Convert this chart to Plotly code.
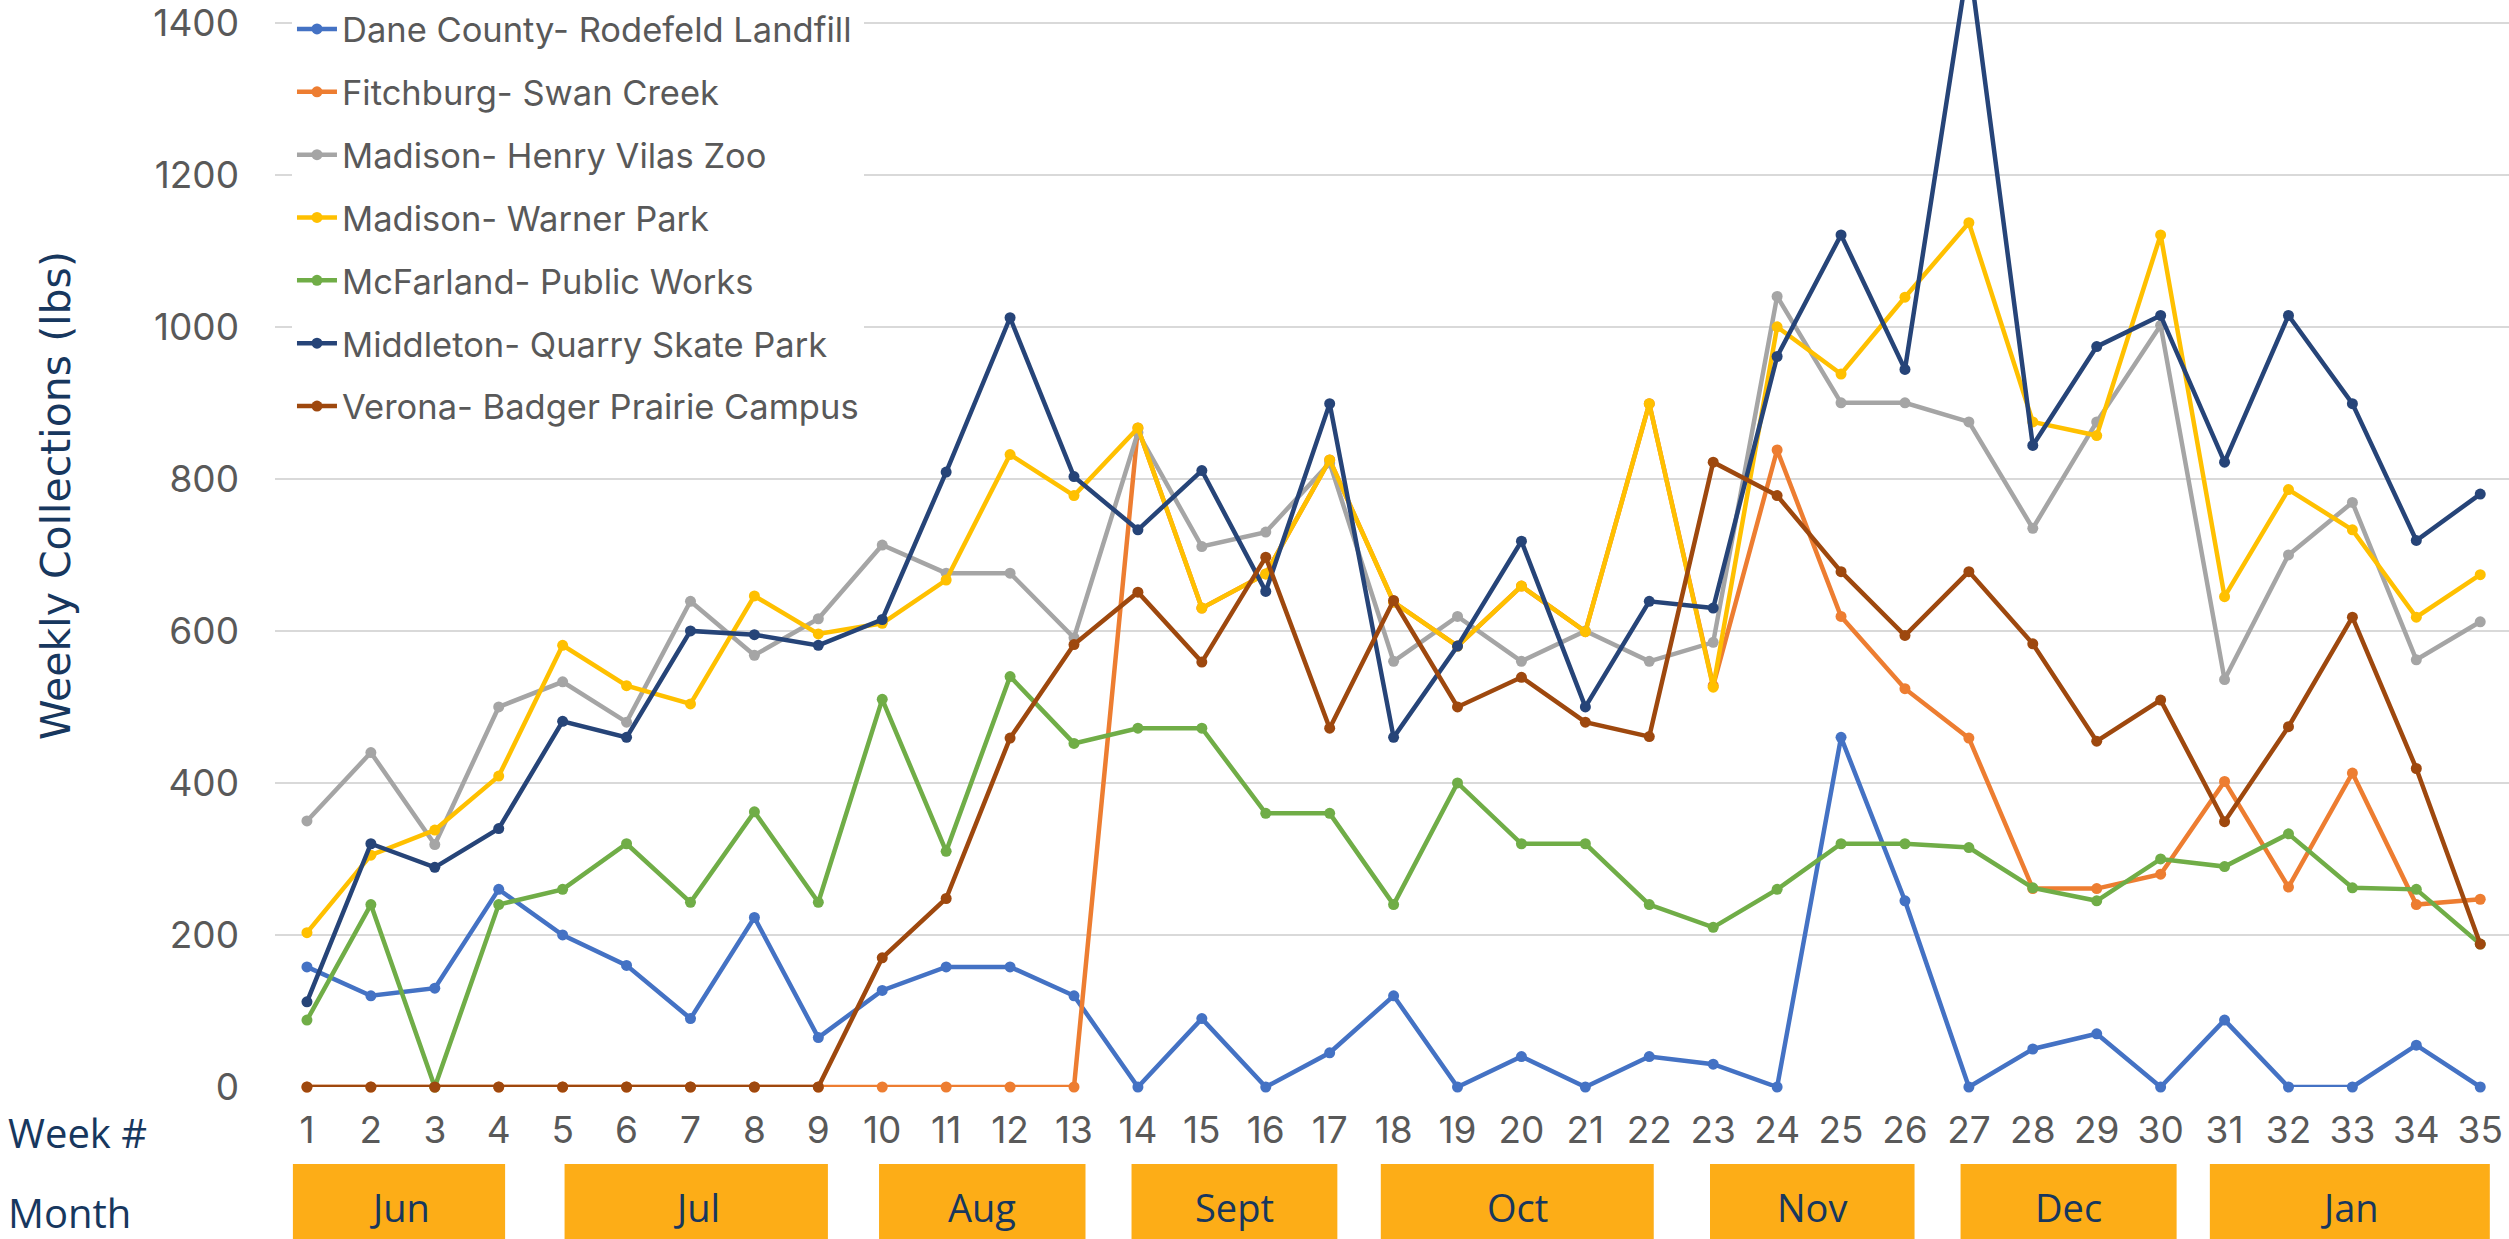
import plotly.graph_objects as go

weeks = list(range(1, 36))
week_labels = [str(w) for w in weeks]

series_names = [
    "Dane County- Rodefeld Landfill",
    "Fitchburg- Swan Creek",
    "Madison- Henry Vilas Zoo",
    "Madison- Warner Park",
    "McFarland- Public Works",
    "Middleton- Quarry Skate Park",
    "Verona- Badger Prairie Campus",
]
series_colors = ["#4472C4", "#ED7D31", "#A5A5A5", "#FFC000", "#70AD47", "#264478", "#9E480E"]

dane = [158, 120, 130, 260, 200, 160, 90, 223, 65, 127, 158, 158, 120, 0, 90, 0, 45, 120, 0, 40,
        0, 40, 30, 0, 460, 245, 0, 50, 70, 0, 88, 0, 0, 55, 0]
fitchburg = [0, 0, 0, 0, 0, 0, 0, 0, 0, 0, 0, 0, 0, 867, 630, 675, 825, 638, 580, 659,
             599, 899, 528, 838, 619, 524, 459, 261, 261, 280, 402, 263, 413, 240, 247]
vilas = [350, 440, 319, 500, 533, 480, 639, 568, 616, 713, 676, 676, 591, 861, 711, 730, 821, 560, 619, 560,
         600, 560, 585, 1040, 900, 900, 875, 735, 875, 1002, 536, 700, 769, 562, 612]
warner = [203, 305, 338, 409, 581, 528, 504, 646, 596, 610, 667, 832, 778, 867, 630, 675, 825, 638, 580, 659,
          599, 899, 526, 1000, 938, 1039, 1137, 875, 857, 1121, 645, 786, 733, 618, 674]
mcfarland = [88, 240, 0, 240, 260, 320, 243, 362, 243, 510, 310, 540, 452, 472, 472, 360, 360, 240, 400, 320,
             320, 240, 210, 260, 320, 320, 315, 262, 245, 300, 290, 333, 262, 260, 188]
middleton = [112, 320, 289, 340, 481, 460, 600, 595, 581, 615, 809, 1012, 803, 733, 811, 652, 899, 460, 580, 718,
             500, 639, 630, 961, 1121, 944, 1485, 844, 974, 1015, 822, 1015, 899, 719, 780]
verona = [0, 0, 0, 0, 0, 0, 0, 0, 0, 170, 248, 459, 582, 651, 559, 697, 472, 640, 500, 539,
          480, 461, 822, 778, 678, 594, 678, 583, 455, 509, 349, 474, 618, 419, 188]

all_series = [dane, fitchburg, vilas, warner, mcfarland, middleton, verona]

months = ["Jun", "Jul", "Aug", "Sept", "Oct", "Nov", "Dec", "Jan"]
month_start = [0.78, 5.03, 9.95, 13.9, 17.8, 22.95, 26.87, 30.77]
month_end = [4.1, 9.15, 13.18, 17.12, 22.07, 26.15, 30.25, 35.15]

fig = go.Figure()
for i, (name, vals) in enumerate(zip(series_names, all_series)):
    fig.add_trace(go.Scatter(
        x=weeks, y=vals, name=name, mode="lines+markers",
        line=dict(color=series_colors[i], width=4.5),
        marker=dict(color=series_colors[i], size=11),
        legendgroup=f"g{i}", cliponaxis=False,
    ))

navy = "#17375E"
for m, s, e in zip(months, month_start, month_end):
    fig.add_shape(type="rect", xref="x", yref="paper", x0=s, x1=e, y0=-0.0708, y1=-0.16,
                  fillcolor="#FDAD17", line=dict(width=0), layer="above")
    fig.add_annotation(x=(s + e) / 2, y=-0.110, xref="x", yref="paper", text=m, showarrow=False,
                       font=dict(family="Open Sans", size=38, color=navy), xanchor="center", yanchor="middle")

fig.add_annotation(x=-0.1205, y=-0.0423, xref="paper", yref="paper", text="Week #", showarrow=False,
                   font=dict(family="Open Sans", size=40, color=navy), xanchor="left", yanchor="middle")
fig.add_annotation(x=-0.1205, y=-0.115, xref="paper", yref="paper", text="Month", showarrow=False,
                   font=dict(family="Open Sans", size=40, color=navy), xanchor="left", yanchor="middle")
fig.add_annotation(x=-0.098, y=0.5437, xref="paper", yref="paper", text="Weekly Collections (lbs)",
                   showarrow=False, textangle=-90,
                   font=dict(family="DejaVu Sans", size=41, color=navy), xanchor="center", yanchor="middle")

fig.update_layout(
    width=2509, height=1239,
    margin=dict(l=275, r=0, t=0, b=152, pad=0),
    plot_bgcolor="white", paper_bgcolor="white",
    font=dict(family="Inter", color="#595959"),
    showlegend=True,
    legend=dict(x=0.0076, y=1.0, xanchor="left", yanchor="top", bgcolor="white",
                font=dict(family="Inter", size=34.5, color="#595959"),
                tracegroupgap=15, itemwidth=40),
    xaxis=dict(range=[0.5, 35.45], tickmode="array", tickvals=weeks, ticktext=week_labels,
               showgrid=False, zeroline=False, showline=False, ticks="",
               tickfont=dict(family="Inter", size=37, color="#595959"), ticklabelstandoff=18,
               ticklabeloverflow="allow"),
    yaxis=dict(range=[0, 1430], tickvals=[0, 200, 400, 600, 800, 1000, 1200, 1400],
               showgrid=True, gridcolor="#D9D9D9", gridwidth=2, zeroline=False, showline=False, ticks="",
               tickfont=dict(family="Inter", size=37, color="#595959"), ticklabelstandoff=35,
               ticklabeloverflow="allow"),
)

fig.write_html("out.html", config={"displayModeBar": False},
               post_script="document.body.style.margin='0px';")
